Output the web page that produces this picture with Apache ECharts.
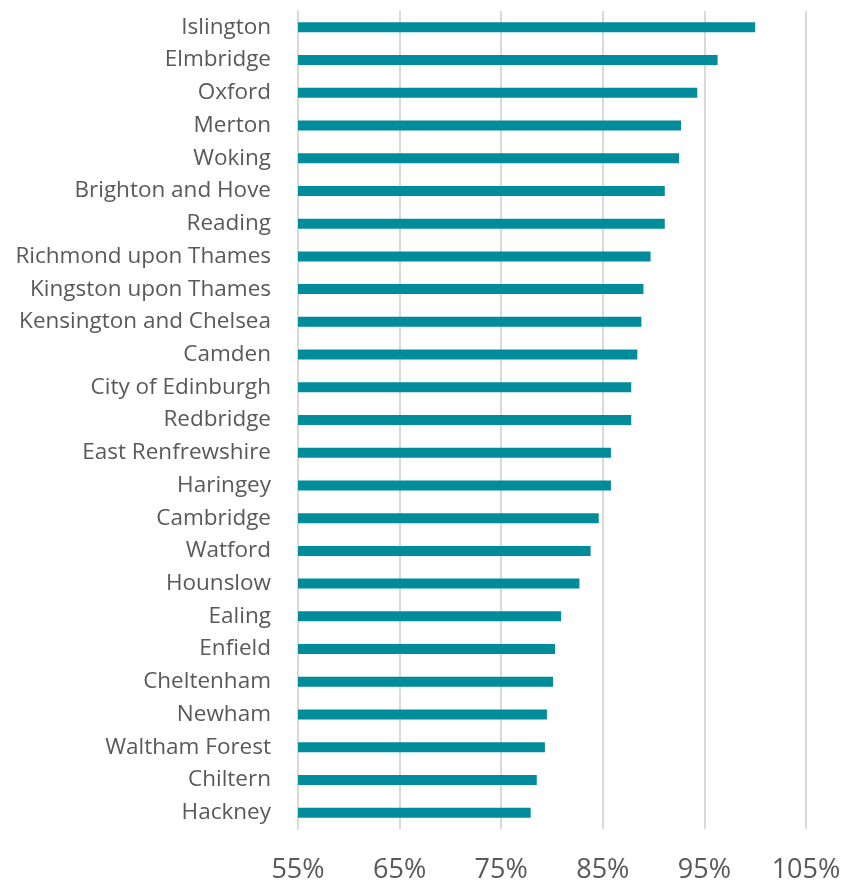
<!DOCTYPE html>
<html>
<head>
<meta charset="utf-8">
<script src="https://cdn.jsdelivr.net/npm/echarts@6/dist/echarts.min.js"></script>
<style>
  html, body { margin: 0; padding: 0; background: #fff; }
  #chart { width: 844px; height: 884px; }
</style>
</head>
<body>
<div id="chart"></div>
<script>
// Local authority names, top to bottom
const areas = [
  'Islington', 'Elmbridge', 'Oxford', 'Merton', 'Woking',
  'Brighton and Hove', 'Reading', 'Richmond upon Thames', 'Kingston upon Thames',
  'Kensington and Chelsea', 'Camden', 'City of Edinburgh', 'Redbridge',
  'East Renfrewshire', 'Haringey', 'Cambridge', 'Watford', 'Hounslow',
  'Ealing', 'Enfield', 'Cheltenham', 'Newham', 'Waltham Forest', 'Chiltern', 'Hackney'
];

// Share (%) for each area, same order
const shares = [
  100.0, 96.3, 94.3, 92.7, 92.5,
  91.1, 91.1, 89.7, 89.0,
  88.8, 88.4, 87.8, 87.8,
  85.8, 85.8, 84.6, 83.8, 82.7,
  80.9, 80.3, 80.1, 79.5, 79.3, 78.5, 77.9
];

// Value axis ticks
const axisMin = 55;
const axisMax = 105;
const axisStep = 10;

const chart = echarts.init(document.getElementById('chart'), null, { renderer: 'canvas' });

chart.setOption({
  animation: false,
  grid: { left: 298, right: 38, top: 11, bottom: 54, containLabel: false },
  xAxis: {
    type: 'value',
    min: axisMin,
    max: axisMax,
    interval: axisStep,
    axisLine: { show: false },
    axisTick: { show: false },
    axisLabel: {
      formatter: v => v + '%',
      color: '#595959',
      fontSize: 27,
      fontFamily: 'Open Sans',
      margin: 28
    },
    splitLine: { show: true, lineStyle: { color: '#d9d9d9', width: 2 } }
  },
  yAxis: {
    type: 'category',
    inverse: true,
    data: areas,
    axisLine: { show: true, lineStyle: { color: '#d9d9d9', width: 2 } },
    axisTick: { show: false },
    axisLabel: {
      color: '#595959',
      fontSize: 22.5,
      fontFamily: 'Open Sans',
      margin: 27,
      padding: [3, 0, 0, 0]
    }
  },
  series: [{
    type: 'bar',
    data: shares,
    barWidth: 10,
    itemStyle: { color: '#008c9b' }
  }]
});
</script>
</body>
</html>
